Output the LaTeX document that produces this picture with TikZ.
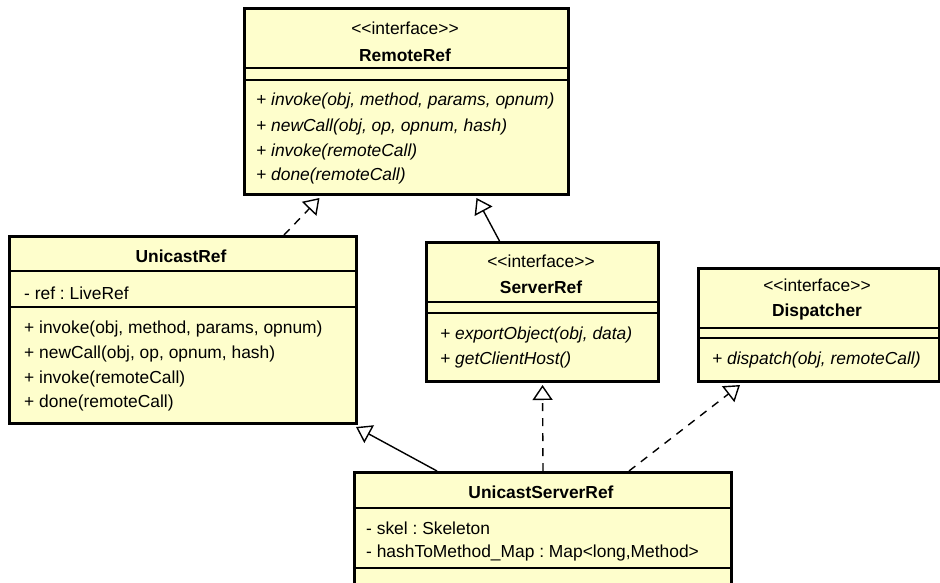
\documentclass[tikz,border=0pt]{standalone}
\usepackage{fontspec}
\setmainfont{Liberation Sans}[Ligatures=ResetAll]
\usetikzlibrary{arrows.meta}
\frenchspacing

\definecolor{classfill}{RGB}{254,254,204}

\begin{document}
\begin{tikzpicture}[x=1pt, y=-1pt,
	classbox/.style={draw, line width=3pt, fill=classfill, anchor=north west, inner sep=0pt},
	divider/.style={line width=1.3pt},
	txt/.style={inner sep=0pt, font=\fontsize{17.4}{20}\selectfont},
	title/.style={txt, font=\fontsize{17.4}{20}\selectfont\bfseries},
	member/.style={txt, anchor=west},
	opmember/.style={member, font=\fontsize{17.4}{20}\selectfont\itshape},
	extends/.style={line width=1.4pt, -{Triangle[open, length=15pt, width=20pt, fill=white]}},
	realizes/.style={extends, dash pattern=on 8pt off 7pt}]

	\useasboundingbox (0,0) rectangle (940,582);

	\begin{scope}
		% RemoteRef
		\node[classbox, minimum width=324pt, minimum height=186pt] (rr) at (243,7) {};
		\node[txt] (rr-st) at (405,28) {<{}<interface>{}>};
		\node[title] (rr-name) at (405,55) {RemoteRef};
		\draw[divider] (243,68) -- (567,68);
		\draw[divider] (243,80) -- (567,80);
		\node[opmember] (rr-op1) at (256,101) {+ invoke(obj, method, params, opnum)};
		\node[opmember] (rr-op2) at (256,127) {+ newCall(obj, op, opnum, hash)};
		\node[opmember] (rr-op3) at (256,152) {+ invoke(remoteCall)};
		\node[opmember] (rr-op4) at (256,176) {+ done(remoteCall)};
	\end{scope}

	\begin{scope}
		% UnicastRef
		\node[classbox, minimum width=347pt, minimum height=187pt] (ur) at (8,235) {};
		\node[title] (ur-name) at (181,256) {UnicastRef};
		\draw[divider] (8,271) -- (355,271);
		\node[member] (ur-at1) at (24,293) {- ref : LiveRef};
		\draw[divider] (8,307) -- (355,307);
		\node[member] (ur-op1) at (24,329) {+ invoke(obj, method, params, opnum)};
		\node[member] (ur-op2) at (24,354) {+ newCall(obj, op, opnum, hash)};
		\node[member] (ur-op3) at (24,379) {+ invoke(remoteCall)};
		\node[member] (ur-op4) at (24,403) {+ done(remoteCall)};
	\end{scope}

	\begin{scope}
		% ServerRef
		\node[classbox, minimum width=232pt, minimum height=139pt] (sr) at (425,241) {};
		\node[txt] (sr-st) at (541,261) {<{}<interface>{}>};
		\node[title] (sr-name) at (541,287) {ServerRef};
		\draw[divider] (425,302) -- (657,302);
		\draw[divider] (425,313) -- (657,313);
		\node[opmember] (sr-op1) at (440,335) {+ exportObject(obj, data)};
		\node[opmember] (sr-op2) at (440,360) {+ getClientHost()};
	\end{scope}

	\begin{scope}
		% Dispatcher
		\node[classbox, minimum width=241pt, minimum height=113pt] (dp) at (697,267) {};
		\node[txt] (dp-st) at (817,285) {<{}<interface>{}>};
		\node[title] (dp-name) at (817,312) {Dispatcher};
		\draw[divider] (697,328) -- (938,328);
		\draw[divider] (697,338) -- (938,338);
		\node[opmember] (dp-op1) at (712,360) {+ dispatch(obj, remoteCall)};
	\end{scope}

	\begin{scope}
		% UnicastServerRef
		\node[classbox, minimum width=377pt, minimum height=129pt] (usr) at (353,471) {};
		\node[title] (usr-name) at (541,492) {UnicastServerRef};
		\draw[divider] (353,508) -- (730,508);
		\node[member] (usr-at1) at (366,528) {- skel : Skeleton};
		\node[member] (usr-at2) at (366,553) {- hashToMethod\_Map : Map<long,Method>};
		\draw[divider] (353,568) -- (730,568);
	\end{scope}

	% Draw the generalizations and realizations
	\draw[realizes] ([xshift=101pt]ur.north) -- ([xshift=-87pt, yshift=-2pt]rr.south);
	\draw[extends] ([xshift=-43pt]sr.north) -- ([xshift=70pt, yshift=-2pt]rr.south);
	\draw[extends] ([xshift=-106pt]usr.north) -- ([xshift=-2pt, yshift=-2pt]ur.south east);
	\draw[realizes] (usr.north) -- ([yshift=-2pt]sr.south);
	\draw[realizes] ([xshift=86pt]usr.north) -- ([xshift=-79pt, yshift=-2pt]dp.south);
\end{tikzpicture}
\end{document}
